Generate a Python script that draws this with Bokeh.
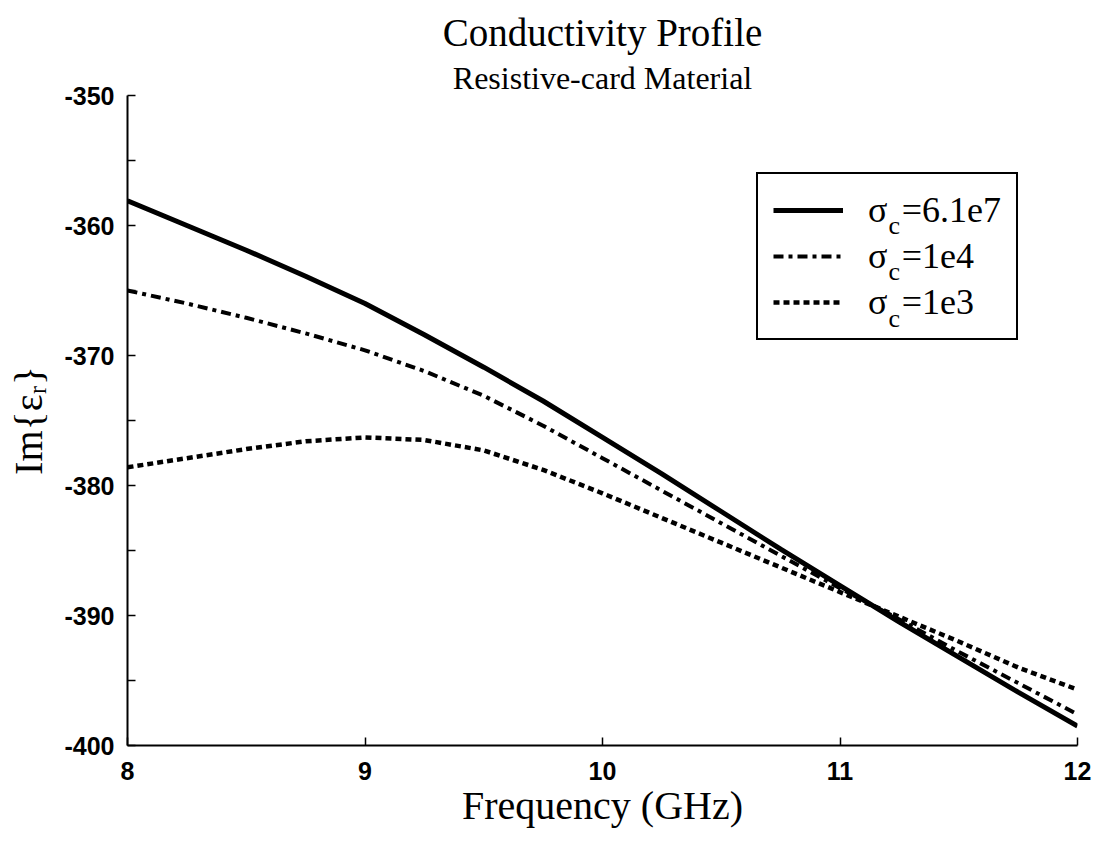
from bokeh.plotting import figure
from bokeh.models import Range1d, FixedTicker, Title, Legend, LegendItem, Label
from bokeh.embed import file_html
from bokeh.resources import INLINE

# ---- data ----
freq = [8.0, 8.25, 8.5, 8.75, 9.0, 9.25, 9.5, 9.75, 10.0,
        10.25, 10.5, 10.75, 11.0, 11.25, 11.5, 11.75, 12.0]
im_sigma_61e7 = [-358.1, -360.0, -361.9, -363.9, -366.0, -368.4, -370.9, -373.5, -376.3,
                 -379.1, -382.0, -384.9, -387.7, -390.5, -393.2, -395.9, -398.5]
im_sigma_1e4 = [-365.0, -366.0, -367.1, -368.3, -369.6, -371.2, -373.1, -375.4, -377.9,
                -380.4, -382.9, -385.4, -387.9, -390.3, -392.8, -395.2, -397.6]
im_sigma_1e3 = [-378.6, -377.9, -377.2, -376.6, -376.3, -376.5, -377.3, -378.8, -380.6,
                -382.5, -384.4, -386.3, -388.2, -390.1, -392.0, -394.0, -395.7]

x_ticks = [8, 9, 10, 11, 12]
y_ticks = [-400, -390, -380, -370, -360, -350]
y_minor = [-395, -385, -375, -365, -355]
legend_text = ["σ\u2009\u2009=6.1e7", "σ\u2009\u2009=1e4", "σ\u2009\u2009=1e3"]
legend_sub = "c"

SERIF = "Liberation Serif"
SANS = "Liberation Sans"

p = figure(width=1097, height=846, output_backend="svg", toolbar_location=None,
           x_range=Range1d(8, 12), y_range=Range1d(-400, -350),
           min_border_left=127, min_border_right=20, min_border_top=95, min_border_bottom=101,
           background_fill_color="white", border_fill_color="white", outline_line_color=None)
p.grid.visible = False

# titles (subtitle first -> closest to plot)
p.add_layout(Title(text="Resistive-card Material", align="center", text_font=SERIF,
                   text_font_size="32px", text_font_style="normal", text_color="black",
                   standoff=0, offset=0), "above")
p.add_layout(Title(text="Conductivity Profile", align="center", text_font=SERIF,
                   text_font_size="39px", text_font_style="normal", text_color="black",
                   standoff=8, offset=0), "above")

r1 = p.line(freq, im_sigma_61e7, line_color="black", line_width=5)
r2 = p.line(freq, im_sigma_1e4, line_color="black", line_width=4, line_dash="10 5 4 5")
r3 = p.line(freq, im_sigma_1e3, line_color="black", line_width=4.5, line_dash="6 4")

for ax in (p.xaxis[0], p.yaxis[0]):
    ax.axis_line_width = 2
    ax.axis_line_color = "black"
    ax.major_tick_in = 8
    ax.major_tick_out = 0
    ax.minor_tick_in = 8
    ax.minor_tick_out = 0
    ax.major_tick_line_width = 1.5
    ax.minor_tick_line_width = 1.5
    ax.major_label_text_font = SANS
    ax.major_label_text_font_style = "bold"
    ax.major_label_text_font_size = "25px"
    ax.major_label_text_color = "black"
    ax.axis_label_text_font = SERIF
    ax.axis_label_text_font_style = "normal"
    ax.axis_label_text_font_size = "40px"
    ax.axis_label_text_color = "black"

p.xaxis.ticker = FixedTicker(ticks=x_ticks)
p.yaxis.ticker = FixedTicker(ticks=y_ticks, minor_ticks=y_minor)
p.xaxis.major_label_overrides = {t: str(t) for t in x_ticks}
p.yaxis.major_label_overrides = {t: str(t) for t in y_ticks}
p.xaxis.major_label_standoff = 16
p.yaxis.major_label_standoff = 13
p.xaxis.axis_label = "Frequency (GHz)"
p.yaxis.axis_label = "Im{εᵣ}"
p.xaxis.axis_label_standoff = 0
p.yaxis.axis_label_standoff = 10

legend = Legend(items=[LegendItem(label=legend_text[0], renderers=[r1]),
                       LegendItem(label=legend_text[1], renderers=[r2]),
                       LegendItem(label=legend_text[2], renderers=[r3])],
                location=(629, 405), orientation="vertical",
                border_line_color="black", border_line_width=2, border_line_alpha=1,
                background_fill_alpha=0,
                padding=15, spacing=4, margin=0,
                glyph_width=70, glyph_height=40, label_standoff=25,
                label_text_font=SERIF, label_text_font_size="36px", label_height=40,
                label_text_color="black")
p.add_layout(legend, "center")

for yy in [520, 474, 427]:
    p.add_layout(Label(x=761, y=yy, x_units="screen", y_units="screen", text=legend_sub,
                       text_font=SERIF, text_font_size="26px", text_color="black",
                       text_baseline="alphabetic", text_align="left"))

open("out.html", "w").write(file_html(p, INLINE))
